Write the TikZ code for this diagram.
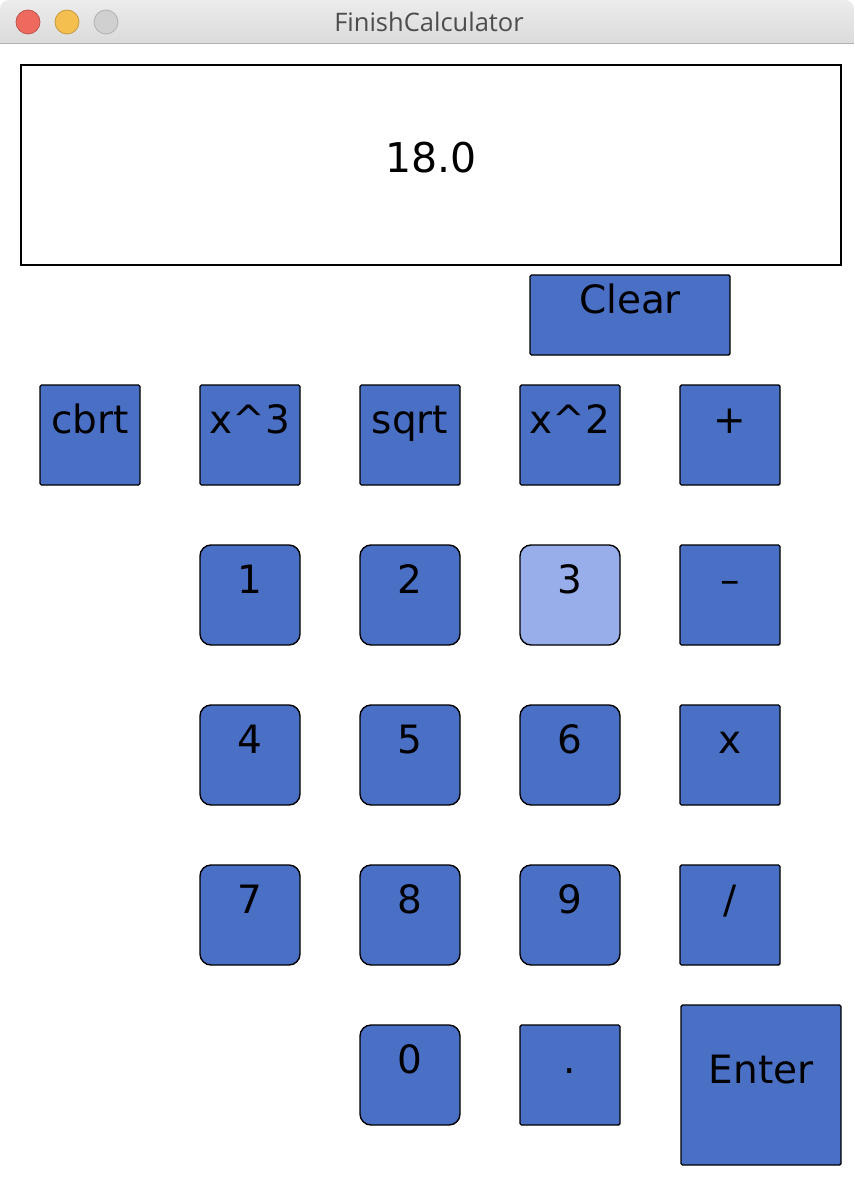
\documentclass[tikz,border=0pt]{standalone}
\usepackage{fontspec}
\setmainfont{DejaVu Sans}
\newfontfamily\titlefont{Open Sans}
\usepackage{tikz}

\definecolor{keyblue}{RGB}{74,112,198}
\definecolor{keylight}{RGB}{152,174,234}
\definecolor{bartop}{RGB}{236,236,236}
\definecolor{barbottom}{RGB}{212,212,212}
\definecolor{barline}{RGB}{178,178,178}
\definecolor{titlegray}{RGB}{77,77,77}
\definecolor{closered}{RGB}{238,106,95}
\definecolor{minyellow}{RGB}{245,191,79}
\definecolor{zoomgray}{RGB}{208,208,208}

\tikzset{
	key/.style={draw=black, line width=1.4pt, fill=keyblue,
		minimum width=100pt, minimum height=100pt, inner sep=0pt,
		text height=0pt, text depth=3pt, rounded corners=1.5pt,
		font=\fontsize{39}{41}\selectfont},
	digit/.style={key, rounded corners=11pt},
	light/.style={circle, minimum size=24pt, inner sep=0pt, line width=0.8pt}
}

\begin{document}
\begin{tikzpicture}[x=1pt, y=-1pt]

	\useasboundingbox (0,0) rectangle (854,1182);

	% title bar
	\begin{scope}
		\clip (0,0) rectangle (854,44);
		\shade[top color=bartop, bottom color=barbottom, rounded corners=9pt]
		(0,0) rectangle (854,60);
	\end{scope}
	\draw[barline, line width=1pt] (0,44) -- (854,44);

	\node[light, fill=closered, draw=closered!80!black] (close) at (28,22) {};
	\node[light, fill=minyellow, draw=minyellow!80!black] (minimize) at (67,22) {};
	\node[light, fill=zoomgray, draw=zoomgray!85!black] (zoom) at (106,22) {};

	\node[font=\titlefont\fontsize{25.5}{28}\selectfont, text=titlegray] (title) at (429,22) {FinishCalculator};

	% display
	\node[draw=black, line width=1.8pt, minimum width=820pt, minimum height=200pt,
		inner sep=0pt] (display) at (431,165) {};
	\node[font=\fontsize{41}{43}\selectfont, anchor=base] (value)
		at ([yshift=-8pt]display.center) {18.0};

	% clear
	\node[key, minimum width=200pt, minimum height=80pt] (clear) at (630,315) {Clear};

	% functions and operators
	\node[key] (cbrt) at (90,435) {cbrt};
	\node[key] (cube) at (250,435) {x\textasciicircum 3};
	\node[key] (sqrt) at (410,435) {sqrt};
	\node[key] (square) at (570,435) {x\textasciicircum 2};
	\node[key] (plus) at (730,435) {+};
	\node[key] (minus) at (730,595) {--};
	\node[key] (times) at (730,755) {x};
	\node[key] (divide) at (730,915) {/};
	\node[key] (point) at (570,1075) {.};
	\node[key, minimum width=160pt, minimum height=160pt] (enter) at (761,1085) {Enter};

	% digits
	\node[digit] (one) at (250,595) {1};
	\node[digit] (two) at (410,595) {2};
	\node[digit, fill=keylight] (three) at (570,595) {3};
	\node[digit] (four) at (250,755) {4};
	\node[digit] (five) at (410,755) {5};
	\node[digit] (six) at (570,755) {6};
	\node[digit] (seven) at (250,915) {7};
	\node[digit] (eight) at (410,915) {8};
	\node[digit] (nine) at (570,915) {9};
	\node[digit] (zero) at (410,1075) {0};

\end{tikzpicture}
\end{document}
